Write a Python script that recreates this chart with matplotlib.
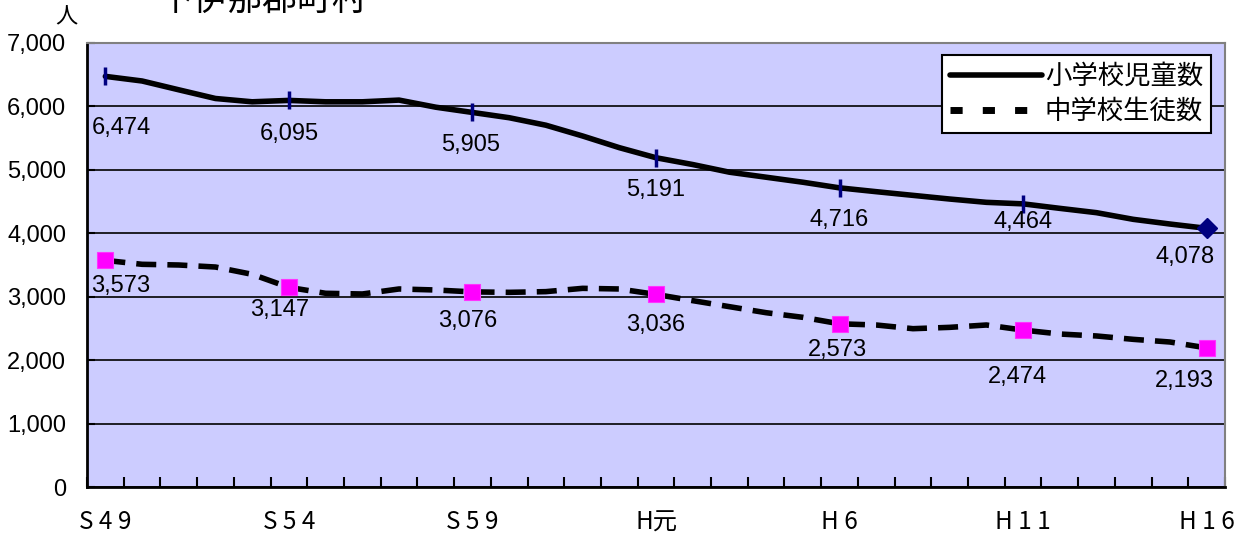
import matplotlib
matplotlib.use("Agg")
import matplotlib.pyplot as plt
from matplotlib.lines import Line2D
from matplotlib.ticker import FuncFormatter, FixedLocator

plt.rcParams['font.family'] = ['Liberation Sans', 'Noto Sans CJK JP', 'DejaVu Sans']

# ---- data ----
tick_labels = ["S49", "S54", "S59", "H元", "H6", "H11", "H16"]
elementary = [6474, 6401, 6262, 6125, 6073, 6095, 6073, 6073, 6100, 5988,
              5905, 5822, 5704, 5534, 5350, 5191, 5084, 4963, 4884, 4805,
              4716, 4656, 4598, 4540, 4488, 4464, 4393, 4325, 4220, 4146, 4078]
junior = [3573, 3511, 3500, 3468, 3353, 3147, 3054, 3043, 3122, 3106,
          3076, 3069, 3080, 3132, 3122, 3036, 2938, 2843, 2748, 2675,
          2573, 2554, 2496, 2517, 2554, 2474, 2412, 2381, 2328, 2286, 2193]
series_names = ["小学校児童数", "中学校生徒数"]
title = "下伊那郡町村"
unit = "人"

n = len(elementary)
x = list(range(n))
label_idx = list(range(0, n, 5))


def spaced(s):
    # widen the letter spacing between half-width characters
    out = s[0]
    for a, b in zip(s, s[1:]):
        out += (" " if a.isascii() and b.isascii() else "") + b
    return out


# label offsets in pixels (dx, dy downwards) -- style only
elem_off = [(16, 52), (0, 34), (-2, 33), (0, 32), (0, 32), (0, 18), (-22, 29)]
jun_off = [(15, 26), (-9, 23), (-5, 29), (0, 31), (-2, 26), (-6, 47), (-22, 33)]

W, H, DPI = 1241, 538, 100
fig = plt.figure(figsize=(W / DPI, H / DPI), dpi=DPI)
ax = fig.add_axes([87 / W, 1 - 487 / H, (1225 - 87) / W, (487 - 43) / H])
ax.set_facecolor("#CCCCFF")

ax.set_xlim(-0.5, n - 0.5)
ax.set_ylim(0, 7000)

# grid
ax.set_yticks(range(0, 7001, 1000))
ax.yaxis.set_major_formatter(FuncFormatter(lambda v, p: f"{int(v):,}"))
ax.grid(axis="y", color="black", lw=1.2, zorder=1)
ax.set_axisbelow(True)

ax.tick_params(axis="y", direction="in", length=6, width=1.5, pad=15,
               labelsize=17)
ax.xaxis.set_major_locator(FixedLocator(label_idx))
ax.set_xticklabels([spaced(t) for t in tick_labels],
                   family=["Noto Sans CJK JP"])
ax.xaxis.set_minor_locator(FixedLocator([i - 0.5 for i in range(n + 1)]))
ax.tick_params(axis="x", which="major", length=0, pad=16, labelsize=17.5)
ax.tick_params(axis="x", which="minor", direction="in", length=7, width=1.5)

for s in ["left", "bottom"]:
    ax.spines[s].set_color("black")
    ax.spines[s].set_linewidth(2)
for s in ["top", "right"]:
    ax.spines[s].set_color("#808080")
    ax.spines[s].set_linewidth(1.5)

# lines
ax.plot(x, elementary, color="black", lw=4, solid_joinstyle="round",
        solid_capstyle="round", zorder=3)
jl, = ax.plot(x, junior, color="black", lw=4, zorder=3,
              dash_capstyle="butt")
jl.set_dashes((3.6, 2.0))

# markers
ex = label_idx[:-1]
ax.plot(ex, [elementary[i] for i in ex], ls="none", marker="|", ms=13,
        mew=2.5, color="#000080", zorder=4)
ax.plot([label_idx[-1]], [elementary[label_idx[-1]]], ls="none", marker="D",
        ms=10, color="#000080", zorder=4)
ax.plot(label_idx, [junior[i] for i in label_idx], ls="none", marker="s",
        ms=12, mfc="#FF00FF", mec="#FF33FF", mew=0.8, zorder=4)

# data labels
px2pt = 72 / DPI
for k, i in enumerate(label_idx):
    dx, dy = elem_off[k]
    ax.annotate(f"{elementary[i]:,}", (i, elementary[i]),
                xytext=(dx * px2pt, -dy * px2pt), textcoords="offset points",
                ha="center", va="center", fontsize=17, zorder=5)
    dx, dy = jun_off[k]
    ax.annotate(f"{junior[i]:,}", (i, junior[i]),
                xytext=(dx * px2pt, -dy * px2pt), textcoords="offset points",
                ha="center", va="center", fontsize=17, zorder=5)

# legend
h1 = Line2D([], [], color="black", lw=4, solid_capstyle="round")
h2 = Line2D([], [], color="black", lw=5, dash_capstyle="butt")
h2.set_dashes((1.75, 2.9))
leg = ax.legend([h1, h2], series_names, loc="upper right",
                bbox_to_anchor=((1211 - 87) / (1225 - 87), (487 - 55) / 444),
                frameon=True, fancybox=False,
                handlelength=3.5, handletextpad=0.1, borderpad=0.3,
                labelspacing=0.3, borderaxespad=0,
                prop={"family": ["Noto Sans CJK JP"], "size": 19})
leg.get_frame().set_edgecolor("black")
leg.get_frame().set_linewidth(1.5)
leg.get_frame().set_facecolor("white")
leg.get_frame().set_alpha(1)
leg.set_zorder(6)

# unit and title
fig.text(66 / W, 1 - 17 / H, unit, ha="center", va="center", fontsize=16,
         family=["Noto Sans CJK JP"])
fig.text(262 / W, 1 - 9.5 / H, title, ha="center", va="baseline",
         fontsize=25, family=["Noto Sans CJK JP"])

fig.savefig("out.png", dpi=DPI)
